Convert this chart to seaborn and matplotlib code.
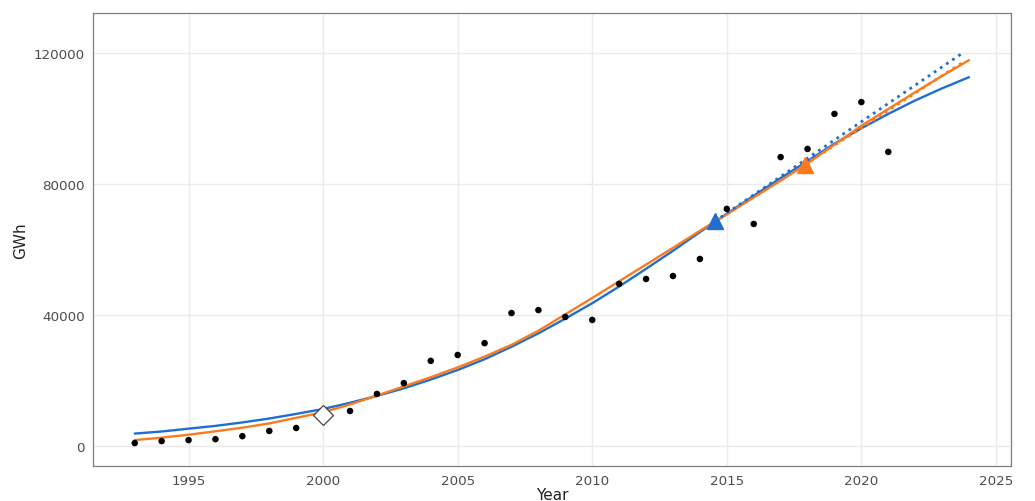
import numpy as np
import pandas as pd
import seaborn as sns
import matplotlib
matplotlib.use("Agg")
import matplotlib.pyplot as plt

# observed yearly values
years = list(range(1993, 2022))
gwh = [900, 1500, 1800, 2100, 3000, 4600, 5500, 9500, 10700, 15900,
       19200, 26000, 27800, 31400, 40600, 41500, 39400, 38500, 49500, 51000,
       51900, 57100, 72400, 67800, 88200, 90700, 101400, 105000, 89800]

# fitted curves
fit_years = list(range(1993, 2025))
fit_blue = [3800, 4430, 5300, 6150, 7200, 8400, 9800, 11300, 13200, 15300,
            17600, 20300, 23200, 26500, 30300, 34400, 38900, 43600, 48700, 54100,
            59600, 65300, 70900, 76400, 81800, 87000, 92300, 97000, 101400, 105500,
            109200, 112600]
fit_orange = [1800, 2550, 3450, 4500, 5600, 6900, 8600, 10300, 12700, 15400,
              18200, 21000, 24000, 27300, 30900, 35200, 40200, 45200, 50300, 55400,
              60500, 65700, 70700, 75900, 81000, 86300, 92000, 97800, 102900, 108000,
              113000, 117800]

# tangent extrapolations from the marked points
tan_blue_x = [2014.55, 2023.8]
tan_blue_y = [68600, 120200]
tan_orange_x = [2017.89, 2023.8]
tan_orange_y = [85900, 117300]

# highlighted points
diamond_x, diamond_y = [2000], [9500]

blue = "#1f6fd0"
orange = "#fb7a1e"

sns.set_style("whitegrid")
plt.rcParams['font.family'] = ['DejaVu Sans']

fig = plt.figure(figsize=(10.35, 5.02), dpi=100)
ax = fig.add_axes([93/1035, 1-467/502, (1011-93)/1035, (467-14)/502])

df_fit = pd.DataFrame({'Year': fit_years, 'blue': fit_blue, 'orange': fit_orange})
sns.lineplot(data=df_fit, x='Year', y='blue', color=blue, lw=1.7, ax=ax, zorder=3)
sns.lineplot(data=df_fit, x='Year', y='orange', color=orange, lw=1.7, ax=ax, zorder=3)
sns.lineplot(x=tan_blue_x, y=tan_blue_y, color=blue, lw=2, ls=':', ax=ax, zorder=4)
sns.lineplot(x=tan_orange_x, y=tan_orange_y, color=orange, lw=2, ls=':', ax=ax, zorder=4)

sns.scatterplot(x=years, y=gwh, color='black', s=22, edgecolor='none', ax=ax, zorder=5)

ax.plot(tan_blue_x[:1], tan_blue_y[:1], marker='^', ms=11, color=blue, ls='none', zorder=6)
ax.plot(tan_orange_x[:1], tan_orange_y[:1], marker='^', ms=11, color=orange, ls='none', zorder=6)
ax.plot(diamond_x, diamond_y, marker='D', ms=10, mfc='white', mec='#444444', mew=0.9,
        ls='none', zorder=6)

ax.set_xlim(1991.45, 2025.56)
ax.set_ylim(-6100, 132200)
ax.set_xticks([1995, 2000, 2005, 2010, 2015, 2020, 2025])
ax.set_yticks([0, 40000, 80000, 120000])
ax.set_xlabel('Year', fontsize=11, color='#222222', labelpad=0)
ax.set_ylabel('GWh', fontsize=11, color='#222222')

ax.grid(True, color='#ebebeb', lw=1)
for s in ax.spines.values():
    s.set_color('#7f7f7f')
    s.set_linewidth(0.9)
ax.tick_params(axis='both', which='both', length=4, width=0.8, color='#7f7f7f',
               labelsize=9.7, labelcolor='#4d4d4d', pad=2)
ax.set_axisbelow(True)

fig.savefig('out.png', dpi=100)
